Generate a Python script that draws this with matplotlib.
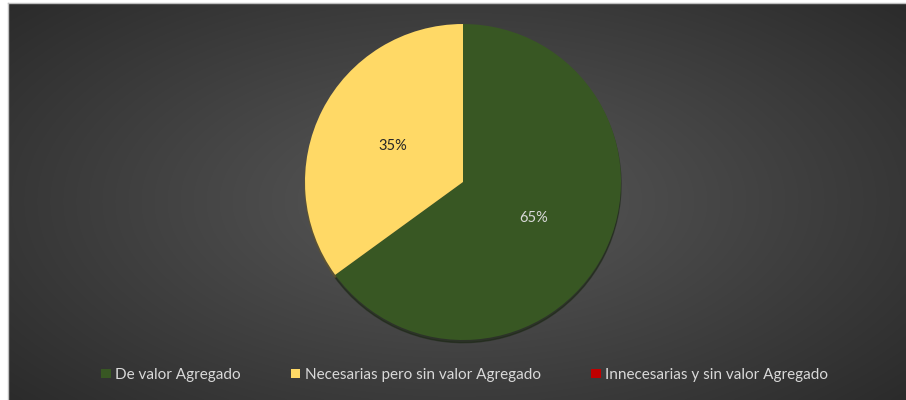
import numpy as np
import matplotlib.pyplot as plt
from matplotlib.patches import Patch

categories = ["De valor Agregado", "Necesarias pero sin valor Agregado",
              "Innecesarias y sin valor Agregado"]
values = [65, 35, 0]
colors = ["#385723", "#FFD966", "#C00000"]
label_colors = ["#D9D9D9", "#262626", "#D9D9D9"]

plt.rcParams["font.family"] = ["Lato", "DejaVu Sans"]

fig = plt.figure(figsize=(9.06, 4.0), dpi=100)
fig.patch.set_facecolor("white")

# radial gradient background of the chart area
bg = fig.add_axes([8 / 906, 0, 898 / 906, 397 / 400])
yy, xx = np.mgrid[-1:1:200j, -1:1:400j]
dist = np.sqrt((xx * 0.9) ** 2 + (yy * 0.8) ** 2)
shade = 0.35 - 0.18 * np.clip(dist / 1.2, 0, 1)
bg.imshow(np.dstack([shade] * 3), aspect="auto", extent=[0, 1, 0, 1],
          interpolation="bicubic")
bg.set_xlim(0, 1)
bg.set_ylim(0, 1)
bg.axis("off")
fig.add_artist(plt.Line2D([8 / 906, 1], [397 / 400, 397 / 400],
                          color="#BFBFBF", lw=1))
fig.add_artist(plt.Line2D([8 / 906, 8 / 906], [0, 397 / 400],
                          color="#BFBFBF", lw=1))

# pie: center (463, 182) px, radius ~158 px
ax = fig.add_axes([(463 - 160) / 906, (400 - 182 - 160) / 400,
                   320 / 906, 320 / 400])
ax.set_facecolor("none")


def fmt(pct):
    return f"{pct:.0f}%" if pct > 0.5 else ""


wedges, texts, autotexts = ax.pie(
    values, colors=colors, startangle=90, counterclock=False,
    autopct=fmt, pctdistance=0.5, radius=158 / 160,
    shadow={"ox": 0.0, "oy": -0.012, "shade": 0.6, "alpha": 0.5},
    textprops={"fontsize": 10.5},
)
for t, c in zip(autotexts, label_colors):
    t.set_color(c)
ax.set_xlim(-1, 1)
ax.set_ylim(-1, 1)
ax.set_aspect("equal")

handles = [Patch(facecolor=c, edgecolor="none") for c in colors]
leg = fig.legend(handles, categories, loc="center",
                 bbox_to_anchor=(0.513, 1 - 375 / 400), ncol=3, frameon=False,
                 fontsize=11, labelcolor="#D9D9D9", handlelength=0.6,
                 handleheight=0.6, handletextpad=0.3, columnspacing=3.3)

fig.savefig("out.png", dpi=100)
